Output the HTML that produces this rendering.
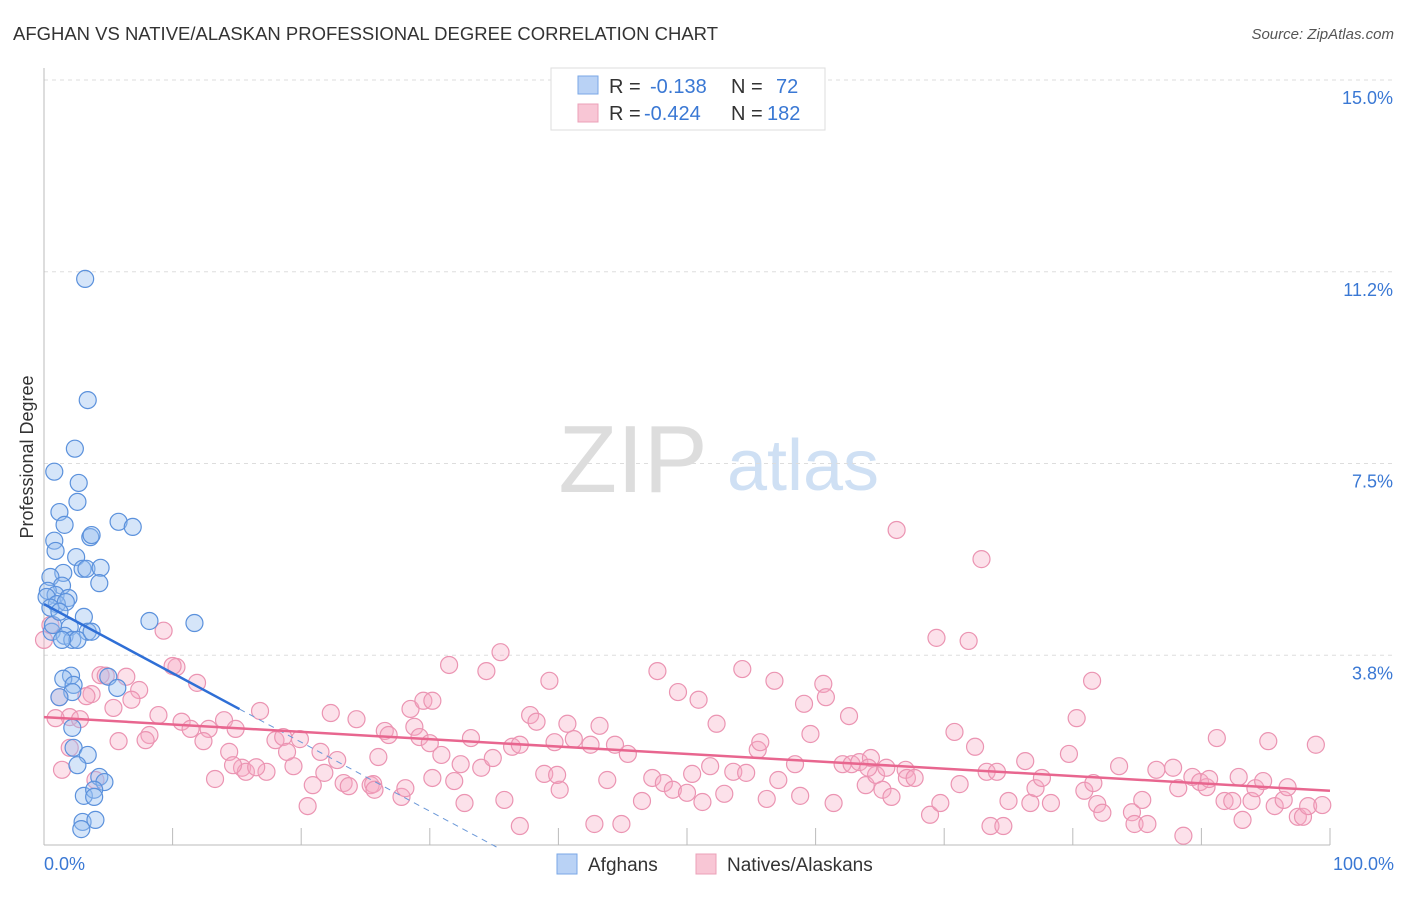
<!DOCTYPE html>
<html><head><meta charset="utf-8"><style>
body{margin:0;background:#fff;font-family:"Liberation Sans",sans-serif;}
svg text{font-family:"Liberation Sans",sans-serif;}
</style></head><body>
<svg id="chart" width="1406" height="892" viewBox="0 0 1406 892" xmlns="http://www.w3.org/2000/svg">
<text x="13" y="40" font-size="18" fill="#333" textLength="705" lengthAdjust="spacingAndGlyphs">AFGHAN VS NATIVE/ALASKAN PROFESSIONAL DEGREE CORRELATION CHART</text>
<text x="1394" y="39" font-size="15" fill="#555" font-style="italic" text-anchor="end">Source: ZipAtlas.com</text>
<text transform="translate(33,457) rotate(-90)" font-size="18" fill="#333" text-anchor="middle">Professional Degree</text>
<g>
<text x="633" y="492" font-size="96" fill="#ddd" font-family="Liberation Serif,serif" text-anchor="middle">ZIP</text>
<text x="803" y="490" font-size="72" fill="#cfe0f4" text-anchor="middle">atlas</text>
</g>
<g id="grid"></g>
<g id="axes"></g>
<g id="pink"></g>
<g id="blue"></g>
<g id="trends"></g>
<g>
<rect x="551" y="68" width="274" height="62" fill="#fff" stroke="#ddd"/>
<rect x="578" y="76" width="20" height="18" fill="#b9d2f5" stroke="#7aa7e6"/>
<rect x="578" y="104" width="20" height="18" fill="#f8c6d5" stroke="#eba0b8"/>
<text x="609" y="93" font-size="20" fill="#333">R =</text>
<text x="650" y="93" font-size="20" fill="#3a78d4">-0.138</text>
<text x="731" y="93" font-size="20" fill="#333">N =</text>
<text x="776" y="93" font-size="20" fill="#3a78d4">72</text>
<text x="609" y="120" font-size="20" fill="#333">R =</text>
<text x="644" y="120" font-size="20" fill="#3a78d4">-0.424</text>
<text x="731" y="120" font-size="20" fill="#333">N =</text>
<text x="767" y="120" font-size="20" fill="#3a78d4">182</text>
</g>
<g>
<rect x="557" y="854" width="20" height="20" fill="#b9d2f5" stroke="#7aa7e6"/>
<text x="588" y="871" font-size="19" fill="#333">Afghans</text>
<rect x="696" y="854" width="20" height="20" fill="#f8c6d5" stroke="#eba0b8"/>
<text x="727" y="871" font-size="19" fill="#333">Natives/Alaskans</text>
</g>
</svg>
<script>
const yTicks=[15,11.25,7.5,3.75];
const yTickLabels=["15.0%","11.2%","7.5%","3.8%"];
const xTickVals=[0,10,20,30,40,50,60,70,80,90,100];
const blueX=[3.2,3.4,2.4,0.8,2.7,2.6,1.2,1.6,5.8,6.9,3.6,3.7,0.8,0.9,2.5,3.0,3.3,4.4,1.5,0.5,4.3,1.4,0.3,0.9,0.2,1.9,1.0,3.1,8.2,11.7,0.6,2.0,3.4,1.6,2.2,2.6,1.4,3.7,5.0,2.1,1.5,2.3,5.7,2.2,1.2,2.2,2.3,3.4,2.6,4.3,3.1,4.7,3.9,3.9,3.0,4.0,2.9,1.7,0.5,0.7,1.2];
const blueY=[11.11,8.74,7.79,7.34,7.12,6.75,6.55,6.30,6.36,6.26,6.06,6.10,5.99,5.79,5.67,5.44,5.44,5.46,5.36,5.28,5.16,5.11,5.01,4.93,4.89,4.87,4.75,4.50,4.42,4.38,4.21,4.30,4.21,4.13,4.05,4.05,4.05,4.21,3.33,3.35,3.29,3.17,3.11,3.03,2.93,2.33,1.94,1.80,1.60,1.37,1.00,1.27,1.12,0.98,0.49,0.53,0.35,4.79,4.68,4.34,4.60];
const pinkX=[9.3,10.3,10.0,11.9,6.4,4.4,4.8,7.4,6.8,3.7,3.3,5.4,1.2,2.0,2.8,8.9,10.7,11.4,12.8,14.0,14.9,8.2,7.9,5.8,12.4,14.4,13.3,15.4,15.7,17.3,16.5,16.8,18.0,18.6,19.9,19.4,18.9,21.5,20.5,20.9,21.8,22.3,22.8,23.3,23.7,24.3,25.4,25.6,26.0,26.5,26.8,27.8,28.1,28.5,28.8,29.2,29.5,30.2,30.2,30.9,31.5,31.9,32.4,32.7,33.2,34.0,34.4,34.9,35.5,35.8,36.4,37.0,37.0,37.8,38.3,38.9,39.3,39.7,40.1,40.7,41.2,42.5,43.2,42.8,43.8,44.9,45.4,46.5,47.3,47.7,48.2,48.9,49.3,50.0,50.4,50.9,51.2,51.8,52.3,52.9,53.6,54.3,54.6,55.5,55.7,56.2,57.1,56.8,58.4,58.8,59.1,59.6,60.6,60.8,61.4,62.1,62.6,62.8,63.4,63.9,64.3,64.7,65.2,65.5,65.9,66.3,67.0,67.1,67.7,68.9,69.4,69.7,70.8,71.2,71.9,72.4,72.9,73.3,74.1,73.6,74.6,75.0,76.3,76.7,77.1,78.3,79.7,80.3,80.9,81.6,81.5,81.9,82.3,83.6,84.6,84.8,85.4,85.8,86.5,87.8,88.2,88.6,89.3,89.9,90.4,90.6,91.2,91.8,92.4,92.9,93.2,93.9,94.2,94.8,95.2,95.7,96.4,96.7,97.5,97.9,98.3,98.9,99.4,77.6,64.1,39.9,44.4,30.0,25.7,14.7,4.0,2.0,0.9,1.4,0.0,0.5];
const pinkY=[4.23,3.52,3.54,3.21,3.33,3.36,3.35,3.07,2.88,2.99,2.95,2.72,2.93,2.54,2.50,2.58,2.45,2.31,2.31,2.48,2.31,2.19,2.09,2.07,2.07,1.86,1.33,1.55,1.47,1.47,1.56,2.66,2.09,2.15,2.11,1.58,1.86,1.86,0.80,1.21,1.45,2.62,1.70,1.25,1.19,2.50,1.21,1.23,1.76,2.27,2.19,0.98,1.15,2.70,2.35,2.15,2.86,2.86,1.35,1.80,3.56,1.29,1.62,0.86,2.13,1.55,3.44,1.74,3.81,0.92,1.96,2.00,0.41,2.58,2.45,1.43,3.25,2.05,1.12,2.41,2.11,2.00,2.37,0.45,1.31,0.45,1.82,0.90,1.35,3.44,1.25,1.12,3.03,1.06,1.43,2.88,0.88,1.58,2.41,1.04,1.47,3.48,1.45,1.90,2.05,0.94,1.31,3.25,1.62,1.00,2.80,2.21,3.19,2.93,0.86,1.62,2.56,1.62,1.66,1.21,1.74,1.41,1.12,1.55,0.98,6.20,1.51,1.35,1.35,0.63,4.09,0.86,2.25,1.23,4.03,1.96,5.63,1.47,1.47,0.41,0.41,0.90,1.68,0.86,1.15,0.86,1.82,2.52,1.10,1.25,3.25,0.84,0.67,1.58,0.68,0.45,0.92,0.45,1.51,1.55,1.15,0.22,1.37,1.27,1.17,1.33,2.13,0.90,0.90,1.37,0.53,0.90,1.15,1.29,2.07,0.80,0.92,1.17,0.59,0.59,0.80,2.00,0.82,1.35,1.55,1.41,2.00,2.03,1.12,1.60,1.31,1.94,2.52,1.51,4.05,4.34];
const blueTrend=[4.75,-0.135];
const pinkTrend=[2.54,-0.0144];

const NS="http://www.w3.org/2000/svg";
const X0=44,X1=1330,Y0=847,YTOP=80;
function sx(v){return X0+(X1-X0)*v/100;}
function sy(v){return Y0-(Y0-YTOP)*v/15;}
function mk(tag,attrs,parent){const e=document.createElementNS(NS,tag);for(const k in attrs)e.setAttribute(k,attrs[k]);parent.appendChild(e);return e;}
const grid=document.getElementById('grid'),axes=document.getElementById('axes');
yTicks.forEach((t,i)=>{
  const l=mk('line',{x1:X0,x2:1394,y1:sy(t),y2:sy(t),stroke:'#ddd','stroke-dasharray':'4,4'},grid);
  
  
  const tx=mk('text',{x:1393,y:sy(t)+24,'font-size':18,fill:'#3a78d4','text-anchor':'end'},grid);
  tx.textContent=yTickLabels[i];
  
  
});
const xa=mk('line',{x1:X0,x2:X1,y1:845,y2:845,stroke:'#bbb'},axes);


const ya=mk('line',{x1:X0,x2:X0,y1:68,y2:845,stroke:'#bbb'},axes);


xTickVals.forEach(v=>{
  const t=mk('line',{x1:sx(v),x2:sx(v),y1:828,y2:845,stroke:'#bbb'},axes);
  
  
});
const xl0=mk('text',{x:44,y:870,'font-size':18,fill:'#3a78d4'},axes);xl0.textContent='0.0%';


const xl1=mk('text',{x:1394,y:870,'font-size':18,fill:'#3a78d4','text-anchor':'end'},axes);xl1.textContent='100.0%';


const pg=document.getElementById('pink');
pinkX.forEach((x,i)=>{
  const c=mk('circle',{cx:sx(x),cy:sy(pinkY[i]),r:8.5,fill:'rgba(245,170,195,0.35)',stroke:'#eb94b2','stroke-width':1.2},pg);
  
  
});
const bg=document.getElementById('blue');
blueX.forEach((x,i)=>{
  const c=mk('circle',{cx:sx(x),cy:sy(blueY[i]),r:8.5,fill:'rgba(150,190,240,0.4)',stroke:'#5b91dc','stroke-width':1.2},bg);
  
  
});
const tg=document.getElementById('trends');
const bEnd=15.2, bZero=-blueTrend[0]/blueTrend[1];
const b1=mk('line',{x1:sx(0),y1:sy(blueTrend[0]),x2:sx(bEnd),y2:sy(blueTrend[0]+blueTrend[1]*bEnd),stroke:'#2f6fd6','stroke-width':2.5},tg);


const b2=mk('line',{x1:sx(bEnd),y1:sy(blueTrend[0]+blueTrend[1]*bEnd),x2:sx(bZero),y2:sy(0),stroke:'#6b98d8','stroke-width':1,'stroke-dasharray':'6,5'},tg);


const p1=mk('line',{x1:sx(0),y1:sy(pinkTrend[0]),x2:sx(100),y2:sy(pinkTrend[0]+pinkTrend[1]*100),stroke:'#e8668f','stroke-width':2.5},tg);


</script>
</body></html>
